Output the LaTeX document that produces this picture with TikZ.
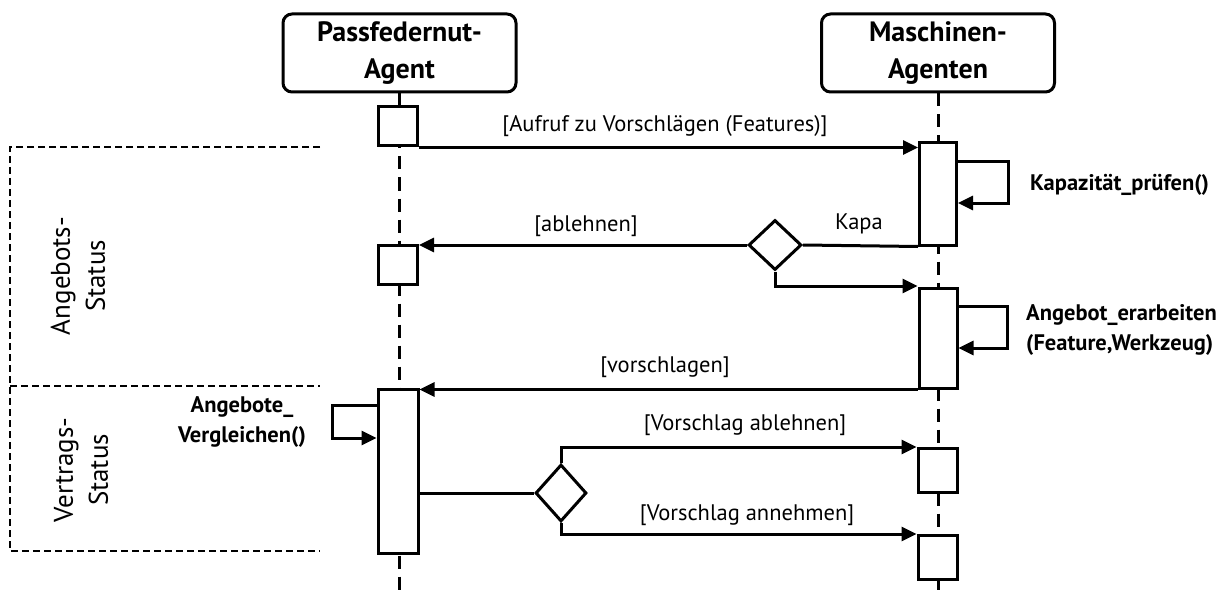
\documentclass[tikz,border=0pt]{standalone}
\usepackage{fontspec}
\setmainfont{PT Sans}
\usetikzlibrary{arrows.meta,shapes.geometric}
\begin{document}
\begin{tikzpicture}[x=1pt,y=-1pt,
  lbl/.style={font=\fontsize{22.5}{30}\selectfont, inner sep=0pt},
  blbl/.style={font=\fontsize{22.5}{30}\selectfont\bfseries, inner sep=0pt},
  slbl/.style={font=\fontsize{27}{35}\selectfont, inner sep=0pt},
  head/.style={draw, line width=3pt, rounded corners=9pt, minimum width=233pt,
    minimum height=78pt, align=center, inner sep=0pt,
    font=\fontsize{28}{37}\selectfont\bfseries},
  life/.style={line width=3pt, dash pattern=on 13pt off 8pt},
  act/.style={draw, fill=white, line width=3pt, inner sep=0pt},
  dec/.style={draw, fill=white, diamond, line width=3pt, inner sep=0pt},
  plain/.style={line width=3pt},
  msg/.style={line width=3pt, -{Triangle[length=15pt,width=14pt]}},
  frame/.style={line width=2.6pt, dash pattern=on 7pt off 4pt},
]
\useasboundingbox (0,0) rectangle (1232,591);

% participants
\node[head] (h1) at (399.5,53) {Passfedernut-\\Agent};
\node[head] (h2) at (938,53) {Maschinen-\\Agenten};

% lifelines
\coordinate (bot) at (0,591);
\draw[life] (h1.south) -- (h1.south |- bot);
\draw[life] (h2.south) -- (h2.south |- bot);

% state frames
\draw[frame] (320,147) -- (10,147) -- (10,551) -- (320,551);
\draw[frame] (10,386) -- (320,386);
\node[slbl, rotate=90, align=center] (st1) at (78,276) {Angebots-\\Status};
\node[slbl, rotate=90, align=center] (st2) at (81,470) {Vertrags-\\Status};

% activations, left lifeline
\node[act, minimum width=39pt, minimum height=39pt] (a1) at (398,126.5) {};
\node[act, minimum width=39pt, minimum height=39pt] (a2) at (398,264.5) {};
\node[act, minimum width=40pt, minimum height=164pt] (a3) at (398,471) {};

% activations, right lifeline
\node[act, minimum width=37pt, minimum height=102pt] (b1) at (938,194) {};
\node[act, minimum width=38pt, minimum height=100pt] (b2) at (938,338) {};
\node[act, minimum width=39pt, minimum height=44pt] (b3) at (937.5,470.5) {};
\node[act, minimum width=39pt, minimum height=44pt] (b4) at (937.5,557.5) {};

% decisions
\node[dec, minimum width=53pt, minimum height=50pt] (d1) at (775,245) {};
\node[dec, minimum width=51pt, minimum height=57pt] (d2) at (561,493) {};

% call for proposals
\draw[msg] (a1.south east) -- (a1.south east -| b1.west);
\node[lbl] (t1) at (665,126) {[Aufruf zu Vorschlägen (Features)]};

% capacity check
\coordinate (s1a) at (1008,162);
\coordinate (s1b) at (1008,203);
\draw[msg] (s1a -| b1.east) -- (s1a) -- (s1b) -- (s1b -| b1.east);
\node[blbl, anchor=west] (t2) at (1030,185) {Kapazität\_prüfen()};

% capacity decision
\draw[plain] (b1.south west) -- (d1.east);
\node[lbl] (t3) at (859,224) {Kapa};
\draw[msg] (d1.west) -- (d1.west -| a2.east);
\node[lbl] (t4) at (586,226) {[ablehnen]};
\coordinate (k1) at (0,286);
\draw[msg] (d1.south) |- (k1 -| b2.west);

% offer preparation
\coordinate (s2a) at (1007,306);
\coordinate (s2b) at (1007,348);
\draw[msg] (s2a -| b2.east) -- (s2a) -- (s2b) -- (s2b -| b2.east);
\node[blbl, anchor=west, align=left] (t5) at (1026,330) {Angebot\_erarbeiten\\(Feature,Werkzeug)};

% proposal
\draw[msg] (b2.south west) -- (b2.south west -| a3.east);
\node[lbl] (t6) at (665,367) {[vorschlagen]};

% comparing offers
\coordinate (s3a) at (332,405);
\coordinate (s3b) at (332,438);
\draw[msg] (s3a -| a3.west) -- (s3a) -- (s3b) -- (s3b -| a3.west);
\node[blbl, align=center] (t7) at (242,422) {Angebote\_\\Vergleichen()};

% contract decision
\draw[plain] (a3.east |- d2.west) -- (d2.west);
\draw[msg] (d2.north) |- (b3.north west);
\node[lbl] (t8) at (745,425) {[Vorschlag ablehnen]};
\draw[msg] (d2.south) |- (b4.north west);
\node[lbl] (t9) at (747,515) {[Vorschlag annehmen]};
\end{tikzpicture}
\end{document}
